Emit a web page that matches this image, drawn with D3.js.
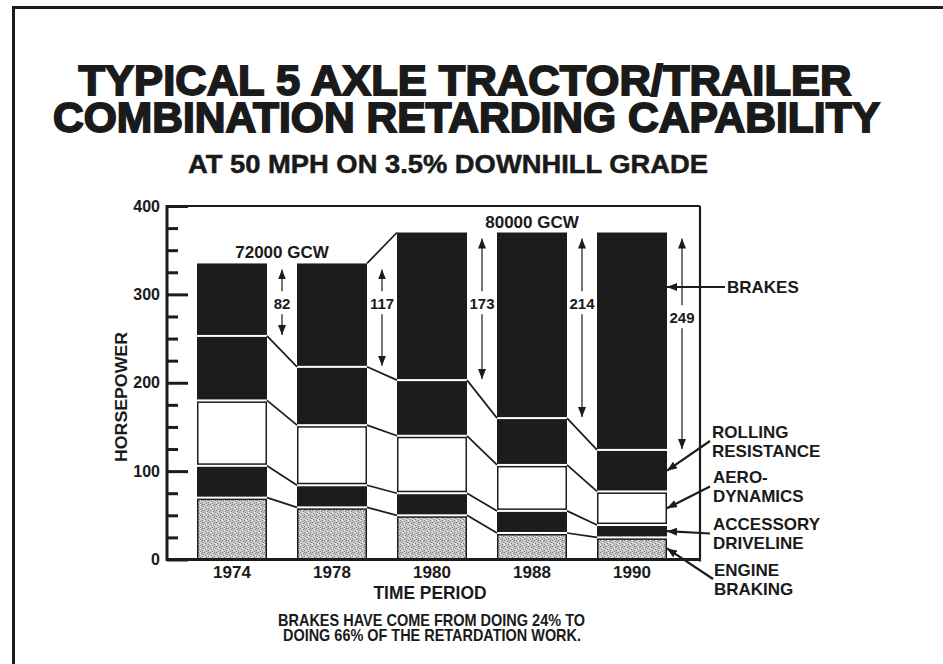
<!DOCTYPE html>
<html>
<head>
    <title>Retarding Capability</title>
    <script src="https://cdn.jsdelivr.net/npm/d3@7/dist/d3.min.js"></script>
    <style>
        body { margin: 0; background: #fff; }
        text { font-family: "Liberation Sans", Arial, sans-serif; font-weight: bold; fill: #1a1a1a; }
    </style>
</head>
<body>
<svg width="943" height="664"></svg>

<script>
    // Data (horsepower per layer, bottom to top)
    const years = ["1974", "1978", "1980", "1988", "1990"];
    const engineBraking = [70, 59, 50, 30, 25];
    const accessoryDriveline = [36, 25, 25, 25, 14];
    const aerodynamics = [74, 68, 65, 52, 38];
    const rollingResistance = [73, 66, 63, 53, 47];
    const brakes = [82, 117, 167, 210, 246];
    const brakeLabels = ["82", "117", "173", "214", "249"];
    const yTickValues = [0, 100, 200, 300, 400];
    const gcwLabels = ["72000 GCW", "80000 GCW"];
    const gcwYears = [["1974", "1978"], ["1980", "1990"]];
    const layerNames = [["ENGINE", "BRAKING"], ["ACCESSORY", "DRIVELINE"], ["AERO-", "DYNAMICS"],
                        ["ROLLING", "RESISTANCE"], ["BRAKES"]];

    const keys = ["engine", "accessory", "aero", "rolling", "brakes"];
    const rows = years.map((yr, i) => ({
        year: yr,
        engine: engineBraking[i],
        accessory: accessoryDriveline[i],
        aero: aerodynamics[i],
        rolling: rollingResistance[i],
        brakes: brakes[i]
    }));
    const series = d3.stack().keys(keys)(rows);

    const ink = "#1c1c1c";
    const svg = d3.select("svg");

    // stipple texture for engine braking
    const defs = svg.append("defs");
    const pat = defs.append("pattern")
        .attr("id", "stipple")
        .attr("width", 6).attr("height", 6)
        .attr("patternUnits", "userSpaceOnUse");
    pat.append("rect").attr("width", 6).attr("height", 6).attr("fill", "#c6c6c6");
    [[0, 0], [3, 1], [1, 3], [4, 4], [2, 5], [5, 2], [4, 0]].forEach(p =>
        pat.append("rect").attr("x", p[0]).attr("y", p[1]).attr("width", 1).attr("height", 1).attr("fill", "#7c7c7c"));
    [[2, 0], [5, 3], [0, 4], [2, 2]].forEach(p =>
        pat.append("rect").attr("x", p[0]).attr("y", p[1]).attr("width", 1).attr("height", 1).attr("fill", "#f2f2f2"));

    // arrow heads
    defs.append("marker")
        .attr("id", "head")
        .attr("viewBox", "0 0 10 8")
        .attr("refX", 10).attr("refY", 4)
        .attr("markerWidth", 10).attr("markerHeight", 8)
        .attr("markerUnits", "userSpaceOnUse")
        .attr("orient", "auto-start-reverse")
        .append("path")
        .attr("d", "M0,0 L10,4 L0,8 Z")
        .attr("fill", ink);

    // outer border
    svg.append("rect")
        .attr("x", 13.5).attr("y", 7.5)
        .attr("width", 1000).attr("height", 1000)
        .attr("fill", "none")
        .attr("stroke", ink)
        .attr("stroke-width", 3);

    // titles
    svg.append("text")
        .attr("x", 465).attr("y", 95)
        .attr("text-anchor", "middle")
        .attr("font-size", "42px")
        .attr("textLength", 773).attr("lengthAdjust", "spacingAndGlyphs")
        .attr("stroke", ink).attr("stroke-width", 1.8)
        .text("TYPICAL 5 AXLE TRACTOR/TRAILER");
    svg.append("text")
        .attr("x", 466.5).attr("y", 132)
        .attr("text-anchor", "middle")
        .attr("font-size", "42px")
        .attr("textLength", 827).attr("lengthAdjust", "spacingAndGlyphs")
        .attr("stroke", ink).attr("stroke-width", 1.8)
        .text("COMBINATION RETARDING CAPABILITY");
    svg.append("text")
        .attr("x", 448).attr("y", 173)
        .attr("text-anchor", "middle")
        .attr("font-size", "25px")
        .attr("textLength", 520).attr("lengthAdjust", "spacingAndGlyphs")
        .attr("stroke", ink).attr("stroke-width", 0.5)
        .text("AT 50 MPH ON 3.5% DOWNHILL GRADE");

    // scales
    const x = d3.scaleBand().domain(years).range([182, 682]).paddingInner(0.3).paddingOuter(0.15);
    const y = d3.scaleLinear().domain([0, 400]).range([559.5, 206]);
    const bw = x.bandwidth();
    const left = 167, right = 700;

    // stacked bars
    const fills = { engine: "url(#stipple)", accessory: ink, aero: "#fff", rolling: ink, brakes: ink };
    const outlined = { engine: true, aero: true };
    series.forEach((layer, li) => {
        const gapTop = li === series.length - 1 ? 0 : 1;
        const gapBot = li === 0 ? 0 : 1;
        const inset = outlined[layer.key] ? 0.75 : 0;
        svg.append("g").selectAll("rect")
            .data(layer)
            .enter().append("rect")
            .attr("x", d => x(d.data.year) + inset)
            .attr("width", bw - 2 * inset)
            .attr("y", d => y(d[1]) + gapTop + inset)
            .attr("height", d => y(d[0]) - y(d[1]) - gapTop - gapBot - 2 * inset)
            .attr("fill", fills[layer.key])
            .attr("stroke", outlined[layer.key] ? ink : "none")
            .attr("stroke-width", 1.5);

        // connecting lines between neighbouring bars
        const pairs = d3.pairs(layer).filter(p => p[0][1] !== p[1][1]);
        svg.append("g").selectAll("line")
            .data(pairs)
            .enter().append("line")
            .attr("x1", p => x(p[0].data.year) + bw)
            .attr("y1", p => y(p[0][1]))
            .attr("x2", p => x(p[1].data.year))
            .attr("y2", p => y(p[1][1]))
            .attr("stroke", ink)
            .attr("stroke-width", 1.7);
    });

    // plot frame
    svg.append("line").attr("x1", left).attr("x2", right).attr("y1", y(400)).attr("y2", y(400))
        .attr("stroke", ink).attr("stroke-width", 2.2);
    svg.append("line").attr("x1", right).attr("x2", right).attr("y1", y(400)).attr("y2", y(0) + 2)
        .attr("stroke", ink).attr("stroke-width", 2.2);
    svg.append("line").attr("x1", left).attr("x2", right).attr("y1", y(0)).attr("y2", y(0))
        .attr("stroke", ink).attr("stroke-width", 3);
    svg.append("line").attr("x1", left).attr("x2", left).attr("y1", y(400) - 1).attr("y2", y(0) + 1.5)
        .attr("stroke", ink).attr("stroke-width", 3);

    // y axis, ticks pointing inward
    const yAxis = d3.axisLeft(y)
        .tickValues(d3.range(0, 401, 25))
        .tickSize(-21)
        .tickPadding(7)
        .tickFormat(d => yTickValues.includes(d) ? d : "");
    const gy = svg.append("g").attr("transform", `translate(${left},0)`).call(yAxis);
    gy.select(".domain").remove();
    gy.selectAll(".tick line")
        .attr("x2", d => yTickValues.includes(d) ? 21 : 11)
        .attr("stroke", ink)
        .attr("stroke-width", 3);
    gy.selectAll(".tick text")
        .attr("font-size", "16px")
        .attr("font-family", "Liberation Sans, Arial, sans-serif")
        .attr("font-weight", "bold")
        .attr("fill", ink);

    svg.append("text")
        .attr("transform", "translate(127,397) rotate(-90)")
        .attr("text-anchor", "middle")
        .attr("font-size", "17px")
        .attr("textLength", 130).attr("lengthAdjust", "spacingAndGlyphs")
        .text("HORSEPOWER");

    // x labels
    svg.selectAll(".year")
        .data(years)
        .enter().append("text")
        .attr("class", "year")
        .attr("x", d => x(d) + bw / 2)
        .attr("y", 578)
        .attr("text-anchor", "middle")
        .attr("font-size", "17px")
        .text(d => d);

    svg.append("text")
        .attr("x", 430).attr("y", 599)
        .attr("text-anchor", "middle")
        .attr("font-size", "17.5px")
        .attr("textLength", 113).attr("lengthAdjust", "spacingAndGlyphs")
        .text("TIME PERIOD");

    svg.append("text")
        .attr("x", 431.5).attr("y", 626)
        .attr("text-anchor", "middle")
        .attr("font-size", "17px")
        .attr("textLength", 307).attr("lengthAdjust", "spacingAndGlyphs")
        .text("BRAKES HAVE COME FROM DOING 24% TO");
    svg.append("text")
        .attr("x", 432).attr("y", 641)
        .attr("text-anchor", "middle")
        .attr("font-size", "17px")
        .attr("textLength", 298).attr("lengthAdjust", "spacingAndGlyphs")
        .text("DOING 66% OF THE RETARDATION WORK.");

    // GCW labels above bar groups
    const totals = series[series.length - 1];
    gcwLabels.forEach((lbl, i) => {
        const a = gcwYears[i][0], b = gcwYears[i][1];
        const top = totals[years.indexOf(a)][1];
        svg.append("text")
            .attr("x", (x(a) + x(b) + bw) / 2)
            .attr("y", y(top) - 5)
            .attr("text-anchor", "middle")
            .attr("font-size", "17px")
            .text(lbl);
    });

    // brake share arrows in the gap right of each bar
    const brakeLayer = series[series.length - 1];
    const labelHp = [290, 290, 290, 290, 274];
    brakeLayer.forEach((d, i) => {
        const xa = x(d.data.year) + bw + 15;
        const yTop = y(d[1]) + 6;
        const yBot = y(d[0]) - 1;
        const yl = y(labelHp[i]);
        svg.append("line")
            .attr("x1", xa).attr("x2", xa).attr("y1", yl - 12).attr("y2", yTop)
            .attr("stroke", ink).attr("stroke-width", 1.2)
            .attr("marker-end", "url(#head)");
        svg.append("line")
            .attr("x1", xa).attr("x2", xa).attr("y1", yl + 11).attr("y2", yBot)
            .attr("stroke", ink).attr("stroke-width", 1.2)
            .attr("marker-end", "url(#head)");
        svg.append("text")
            .attr("x", xa).attr("y", yl + 5.5)
            .attr("text-anchor", "middle")
            .attr("font-size", "15px")
            .text(brakeLabels[i]);
    });

    // layer callouts pointing at the 1990 bar
    const last = years.length - 1;
    const barEdge = x(years[last]) + bw;
    const callouts = [
        { tx: 714, ty: 570, sx: 713, sy: 579 },
        { tx: 713, ty: 524, sx: 710, sy: 533.5 },
        { tx: 713, ty: 477, sx: 710, sy: 486.5 },
        { tx: 712, ty: 432, sx: 710, sy: 441 },
        { tx: 727, ty: 287, sx: 725, sy: 287 }
    ];
    series.forEach((layer, li) => {
        const c = callouts[li];
        const d = layer[last];
        const ty = layer.key === "brakes" ? c.sy : y((d[0] + d[1]) / 2);
        svg.append("line")
            .attr("x1", c.sx).attr("y1", c.sy)
            .attr("x2", barEdge).attr("y2", ty)
            .attr("stroke", ink).attr("stroke-width", 2.2)
            .attr("marker-end", "url(#head)");
        layerNames[li].forEach((ln, k) => {
            svg.append("text")
                .attr("x", c.tx).attr("y", c.ty + 6 + k * 18.5)
                .attr("font-size", "17px")
                .text(ln);
        });
    });
</script>
</body>
</html>
